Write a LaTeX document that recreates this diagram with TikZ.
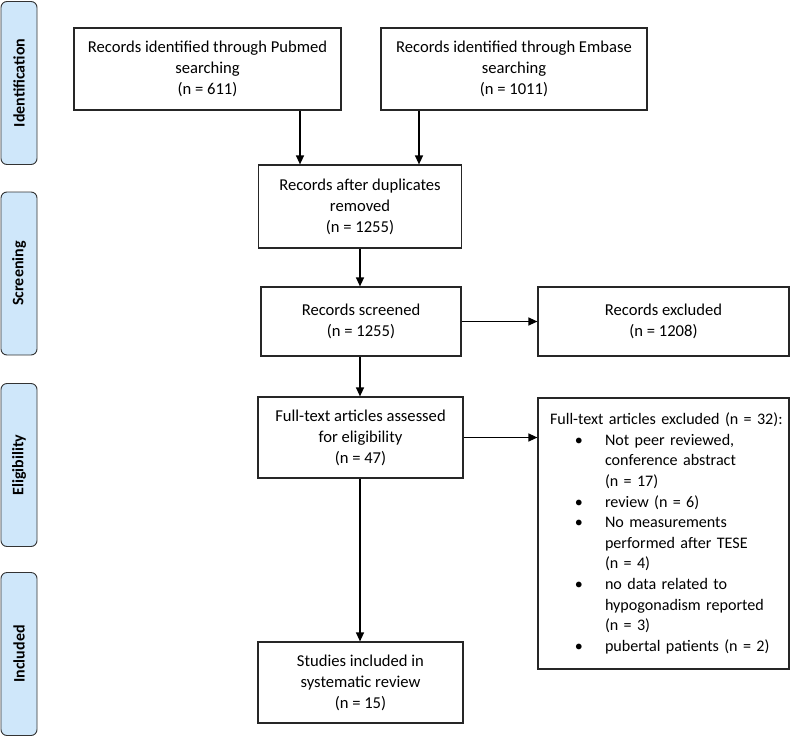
\documentclass[tikz,border=0pt]{standalone}
\usepackage{fontspec}
\setmainfont{Carlito}
\usepackage{enumitem}
\usetikzlibrary{arrows.meta}

\definecolor{stageblue}{RGB}{207,231,250}
\newcommand{\boxfont}{\fontsize{16.6}{21}\selectfont}
\newcommand{\listfont}{\fontsize{16.1}{20.6}\selectfont}
\newcommand{\stagefont}{\bfseries\fontsize{16}{17}\selectfont}
\newcommand{\stagen}{\node[draw=black!80, line width=0.9pt, fill=stageblue, rounded corners=6pt, rotate=90, minimum width=163, minimum height=36, inner sep=0pt, font=\stagefont]}
\newcommand{\bx}{\node[draw=black!85, line width=1.2pt, align=center, inner sep=4pt, font=\boxfont]}

\begin{document}
\begin{tikzpicture}[x=1pt, y=-1pt,
    arr/.style={line width=1.3pt, -{Triangle[length=9pt, width=8pt]}}]
            \useasboundingbox (0,0) rectangle (792,739);

            % phases on the left
            \stagen (ident) at (19, 83) {Identification};
            \stagen (screen) at (19, 273.5) {Screening};
            \stagen (elig) at (19, 465) {Eligibility};
            \stagen (incl) at (19, 654) {Included};

            \bx[minimum width=267, minimum height=82] (pubmed) at (207.5, 69)
                {Records identified through Pubmed\\searching\\(n = 611)};
            \bx[minimum width=266, minimum height=82] (embase) at (514, 69)
                {Records identified through Embase\\searching\\(n = 1011)};
            \bx[minimum width=203, minimum height=83] (dup) at (360, 206.5)
                {Records after duplicates\\removed\\(n = 1255)};
            \bx[minimum width=200, minimum height=69] (screened) at (361, 321.5)
                {Records screened\\(n = 1255)};
            \bx[minimum width=251, minimum height=69] (excl) at (663.5, 321.5)
                {Records excluded\\(n = 1208)};
            \bx[minimum width=205, minimum height=81] (fulltext) at (360.5, 437.5)
                {Full-text articles assessed\\for eligibility\\(n = 47)};
            \bx[minimum width=205, minimum height=81] (studies) at (360.5, 682.5)
                {Studies included in\\systematic review\\(n = 15)};
            \bx[minimum width=251, minimum height=271, text width=227, align=left, inner xsep=12pt, font=\listfont] (ftexcl) at (663.5, 533.5)
                {\mbox{Full-text articles excluded (n = 32):}
                \begin{itemize}[leftmargin=55pt, labelsep=22pt, topsep=0pt, itemsep=0pt, parsep=0pt, partopsep=0pt]
                \item Not peer reviewed,\\conference abstract\\(n = 17)
                \item review (n = 6)
                \item No measurements\\performed after TESE\\(n = 4)
                \item no data related to\\hypogonadism reported\\(n = 3)
                \item pubertal patients (n = 2)
                \end{itemize}};

            \coordinate (inL) at ([xshift=-60]dup.north);
            \coordinate (inR) at ([xshift=59]dup.north);

            \draw[arr]
                (pubmed.south -| inL) -- (inL);
            \draw[arr]
                (embase.south -| inR) -- (inR);

            \draw[arr] (dup.south) -- (dup.south |- screened.north);
            \draw[arr] (screened.east) -- (excl.west);
            \draw[arr] (screened.south -| dup.south) -- (dup.south |- fulltext.north);
            \draw[arr] (fulltext.east) -- (fulltext.east -| ftexcl.west);
            \draw[arr] (fulltext.south -| dup.south) -- (dup.south |- studies.north);
\end{tikzpicture}
\end{document}
